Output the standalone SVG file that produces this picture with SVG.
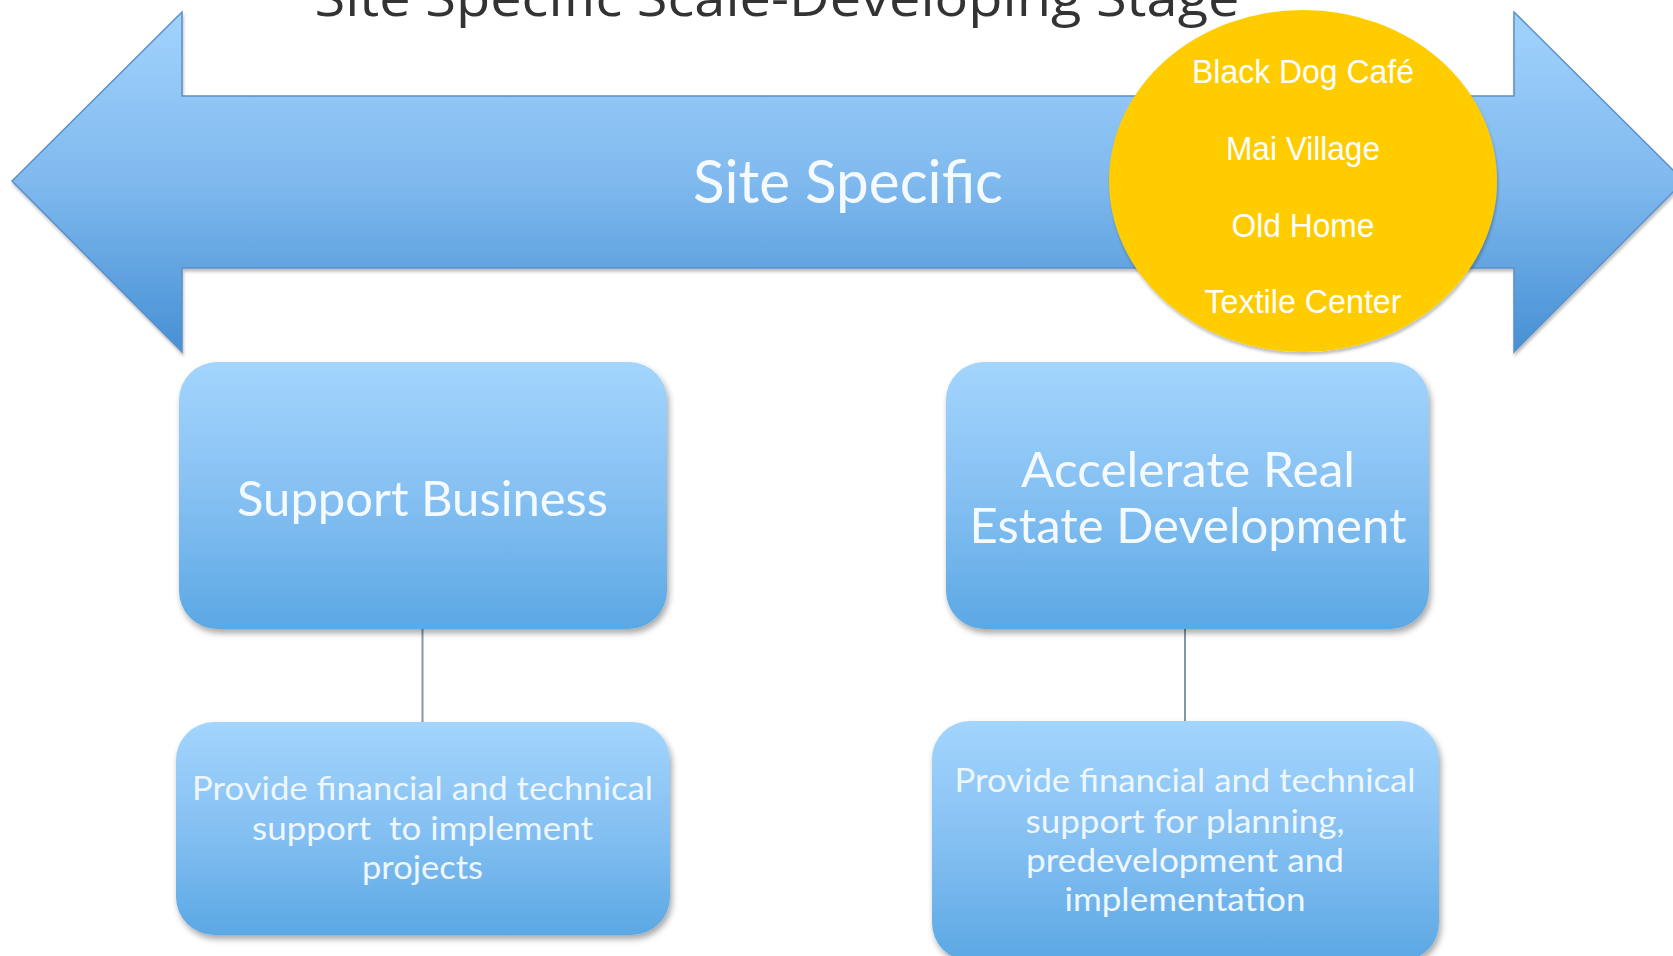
<svg xmlns="http://www.w3.org/2000/svg" width="1673" height="956" viewBox="0 0 1673 956">
  <defs>
    <linearGradient id="gArrow" x1="0" y1="0" x2="0" y2="1">
      <stop offset="0" stop-color="#a2d3fd"/>
      <stop offset="0.5" stop-color="#7fb9ee"/>
      <stop offset="1" stop-color="#4690d4"/>
    </linearGradient>
    <linearGradient id="gBox" x1="0" y1="0" x2="0" y2="1">
      <stop offset="0" stop-color="#a3d5fd"/>
      <stop offset="0.5" stop-color="#85c0f2"/>
      <stop offset="1" stop-color="#5ba8e4"/>
    </linearGradient>
    <filter id="shadow" x="-10%" y="-10%" width="120%" height="125%">
      <feDropShadow dx="2" dy="4" stdDeviation="3" flood-color="#000" flood-opacity="0.35"/>
    </filter>
    <filter id="shadowS" x="-5%" y="-5%" width="110%" height="115%">
      <feDropShadow dx="1" dy="3" stdDeviation="1.5" flood-color="#000" flood-opacity="0.25"/>
    </filter>
  </defs>
  <style>
    .ttl { font-family: "Open Sans", "Noto Sans", sans-serif; fill: #333333; }
    .big { font-family: Lato, "Open Sans", sans-serif; fill: #f4faff; text-anchor: middle; }
    .sm { font-family: Lato, "Open Sans", sans-serif; fill: #eef7ff; text-anchor: middle; font-size: 32px; }
    .yl { font-family: "Liberation Sans", Arial, sans-serif; fill: #ffffff; text-anchor: middle; font-size: 33px; }
    .box { fill: url(#gBox); filter: url(#shadow); }
    .conn { stroke: #8496ab; stroke-width: 2; fill: none; }
  </style>
  <rect width="1673" height="956" fill="#ffffff"/>

  <text class="ttl" x="777" y="16" font-size="52" text-anchor="middle" textLength="925" lengthAdjust="spacingAndGlyphs">Site Specific Scale-Developing Stage</text>

  <g id="arrow">
    <path d="M12,181 L182,12 L182,96 L1514,96 L1514,12 L1684,181 L1514,352 L1514,268 L182,268 L182,352 Z" fill="url(#gArrow)" stroke="#5b8fc9" stroke-width="1.5" filter="url(#shadowS)"/>
    <text class="big" x="848" y="203" font-size="60" textLength="310" lengthAdjust="spacingAndGlyphs">Site Specific</text>
  </g>

  <g id="sites">
    <ellipse cx="1303" cy="181" rx="194" ry="171" fill="#ffcc00" filter="url(#shadowS)"/>
    <text class="yl" x="1303" y="83" textLength="222" lengthAdjust="spacingAndGlyphs">Black Dog Café</text>
    <text class="yl" x="1303" y="160" textLength="154" lengthAdjust="spacingAndGlyphs">Mai Village</text>
    <text class="yl" x="1303" y="237" textLength="143" lengthAdjust="spacingAndGlyphs">Old Home</text>
    <text class="yl" x="1303" y="313" textLength="197" lengthAdjust="spacingAndGlyphs">Textile Center</text>
  </g>

  <g id="connectors">
    <line class="conn" x1="422.5" y1="628" x2="422.5" y2="723"/>
    <line class="conn" x1="1185" y1="628" x2="1185" y2="722"/>
  </g>

  <g id="support-business">
    <rect class="box" x="179" y="362" width="488" height="267" rx="38"/>
    <text class="big" x="422.5" y="516" font-size="48" textLength="371" lengthAdjust="spacingAndGlyphs">Support Business</text>
  </g>

  <g id="accelerate">
    <rect class="box" x="946" y="362" width="483" height="267" rx="38"/>
    <text class="big" x="1188" y="487" font-size="48" textLength="334" lengthAdjust="spacingAndGlyphs">Accelerate Real</text>
    <text class="big" x="1188" y="543" font-size="48" textLength="437" lengthAdjust="spacingAndGlyphs">Estate Development</text>
  </g>

  <g id="support-detail">
    <rect class="box" x="176" y="722" width="494" height="213" rx="38"/>
    <text class="sm" x="422.5" y="800" textLength="461" lengthAdjust="spacingAndGlyphs">Provide financial and technical</text>
    <text class="sm" x="422.5" y="840" textLength="341" lengthAdjust="spacingAndGlyphs" xml:space="preserve">support  to implement</text>
    <text class="sm" x="422.5" y="879" textLength="121" lengthAdjust="spacingAndGlyphs">projects</text>
  </g>

  <g id="accelerate-detail">
    <rect class="box" x="932" y="721" width="507" height="240" rx="38"/>
    <text class="sm" x="1185" y="792" textLength="461" lengthAdjust="spacingAndGlyphs">Provide financial and technical</text>
    <text class="sm" x="1185" y="833" textLength="319" lengthAdjust="spacingAndGlyphs">support for planning,</text>
    <text class="sm" x="1185" y="872" textLength="318" lengthAdjust="spacingAndGlyphs">predevelopment and</text>
    <text class="sm" x="1185" y="911" textLength="241" lengthAdjust="spacingAndGlyphs">implementation</text>
  </g>
</svg>
